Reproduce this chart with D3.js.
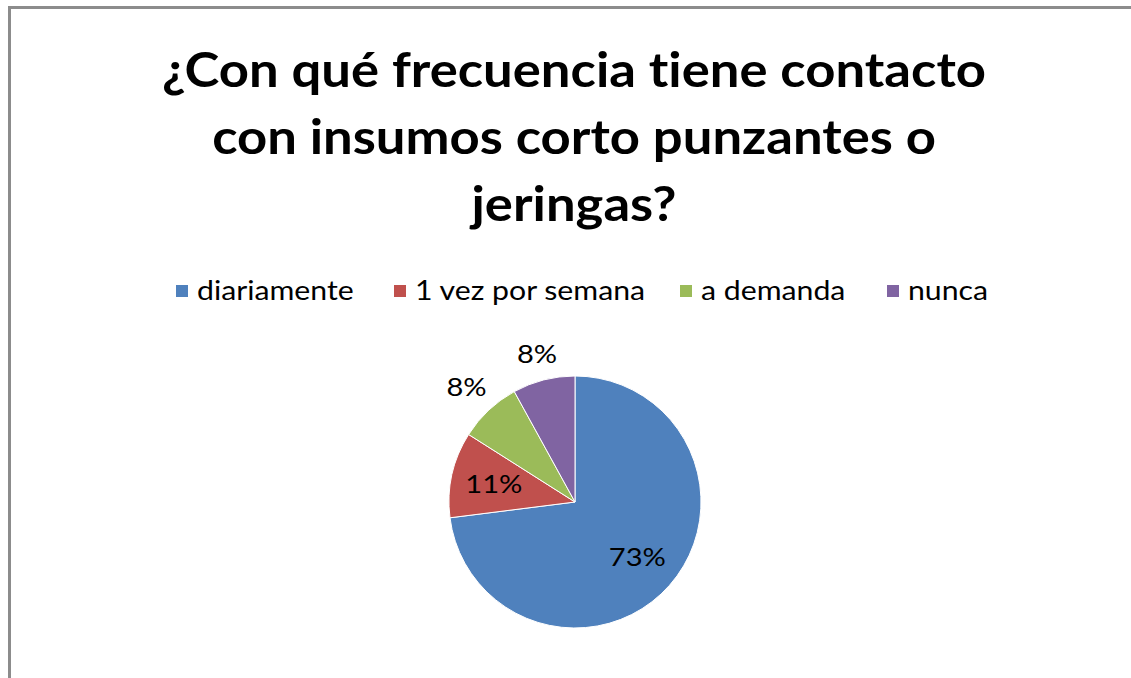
<!DOCTYPE html>
<html>
<head>
<meta charset="utf-8">
<script src="https://cdn.jsdelivr.net/npm/d3@7"></script>
<style>
  html, body { margin: 0; padding: 0; background: #fff; }
  svg { display: block; font-family: Lato, "Open Sans", sans-serif; font-variant-ligatures: none; }
</style>
</head>
<body>
<div id="chart"></div>
<script>
(function(){
  'use strict';

  // data
  var categories = ["diariamente", "1 vez por semana", "a demanda", "nunca"];
  var values = [73, 11, 8, 8];
  var colors = ["#4f81bd", "#c0504d", "#9bbb59", "#8064a2"];
  var titleLines = ["¿Con qué frecuencia tiene contacto", "con insumos corto punzantes o", "jeringas?"];

  var width = 1131, height = 678,
      cx = 575, cy = 502, radius = 126,
      stretch = 1.12; // the original text is a bit wider than Lato

  var svg = d3.select("#chart")
    .append("svg")
    .attr("width", width)
    .attr("height", height);

  // chart area frame (only top and left visible)
  svg.append("rect")
    .attr("x", 9.5).attr("y", 7.5)
    .attr("width", 1200).attr("height", 800)
    .attr("fill", "#fff")
    .attr("stroke", "#8c8c8c")
    .attr("stroke-width", 3);

  // title
  svg.append("g")
    .selectAll("text")
    .data(titleLines)
    .enter()
    .append("text")
    .attr("transform", function(d, i){
      return "translate(574," + (87 + i * 67) + ") scale(" + stretch + ",1)";
    })
    .attr("text-anchor", "middle")
    .style("font-weight", "bold")
    .style("font-size", "47px")
    .style("fill", "#000")
    .text(function(d){ return d; });

  // legend
  var legendX = [176, 394, 680, 887];
  var legend = svg.append("g").attr("class", "legend")
    .selectAll("g")
    .data(categories)
    .enter()
    .append("g")
    .attr("transform", function(d, i){ return "translate(" + legendX[i] + ",291)"; });

  legend.append("rect")
    .attr("x", 0).attr("y", -6)
    .attr("width", 12).attr("height", 12)
    .attr("fill", function(d, i){ return colors[i]; });

  legend.append("text")
    .attr("transform", "translate(21,9) scale(" + stretch + ",1)")
    .style("font-size", "27px")
    .style("fill", "#000")
    .text(function(d){ return d; });

  // pie
  var pie = d3.pie().sort(null).value(function(d){ return d; });
  var arcs = pie(values);
  var arc = d3.arc().innerRadius(0).outerRadius(radius);
  var total = d3.sum(values);

  var g = svg.append("g").attr("transform", "translate(" + cx + "," + cy + ")");

  g.selectAll("path")
    .data(arcs)
    .enter()
    .append("path")
    .attr("d", arc)
    .attr("fill", function(d, i){ return colors[i]; })
    .attr("stroke", "#fff")
    .attr("stroke-width", 1);

  // data labels: inside for big slices, outside for small ones
  g.selectAll("text.lbl")
    .data(arcs)
    .enter()
    .append("text")
    .attr("class", "lbl")
    .attr("text-anchor", "middle")
    .attr("dy", "0.35em")
    .style("font-size", "26px")
    .style("fill", "#000")
    .attr("transform", function(d){
      var a = (d.startAngle + d.endAngle) / 2,
          sx = Math.sin(a), sy = -Math.cos(a), r;
      if (d.value / total >= 0.1) {
        r = radius * 0.66;
      } else {
        r = radius + 10 + 20 * Math.abs(sx) + 12 * Math.abs(sy);
      }
      return "translate(" + (r * sx) + "," + (r * sy) + ") scale(" + stretch + ",1)";
    })
    .text(function(d){ return Math.round(d.value / total * 100) + "%"; });
})();
</script>
</body>
</html>
